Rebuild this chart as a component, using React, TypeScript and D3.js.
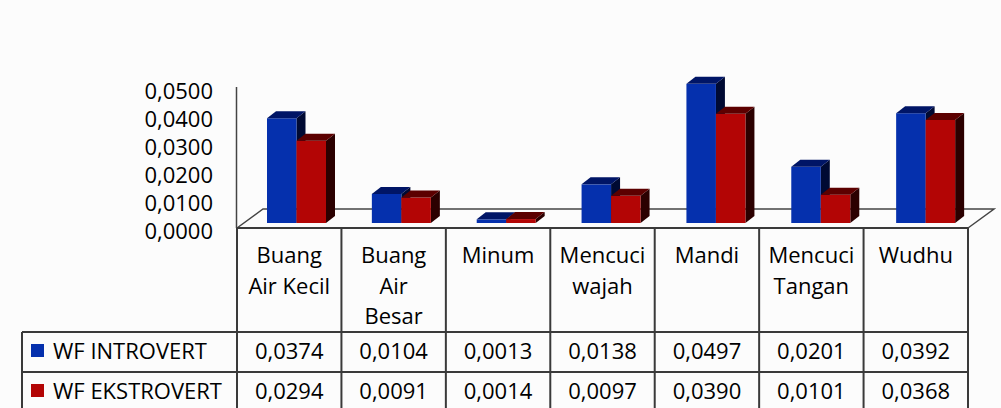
import React from "react";
import * as d3 from "d3";

const categories = ["Buang Air Kecil", "Buang Air Besar", "Minum", "Mencuci wajah", "Mandi", "Mencuci Tangan", "Wudhu"];
const categoryLines = [["Buang", "Air Kecil"], ["Buang", "Air", "Besar"], ["Minum"], ["Mencuci", "wajah"], ["Mandi"], ["Mencuci", "Tangan"], ["Wudhu"]];
const introvert = [0.0374, 0.0104, 0.0013, 0.0138, 0.0497, 0.0201, 0.0392];
const ekstrovert = [0.0294, 0.0091, 0.0014, 0.0097, 0.039, 0.0101, 0.0368];
const seriesNames = ["WF INTROVERT", "WF EKSTROVERT"];
const yTicks = [0, 0.01, 0.02, 0.03, 0.04, 0.05];

const W = 1001;
const H = 408;
const FONT = "'Open Sans', 'Noto Sans', sans-serif";

const fmt = (v: number) => v.toFixed(4).replace(".", ",");

const BLUE = { front: "#0530ad", top: "#001566", side: "#000a33" };
const RED = { front: "#b30505", top: "#5c0000", side: "#2b0000" };

export default function App() {
  // table columns
  const xTable = d3.scaleBand<string>().domain(categories).range([237, 968]);
  // bars sit mid-depth on the floor, slightly shifted right
  const xBars = d3.scaleBand<string>().domain(categories).range([245, 979]);
  const y = d3.scaleLinear().domain([0, 0.05]).range([228, 88]);
  const yBar = d3.scaleLinear().domain([0, 0.05]).range([223, 83]);

  const dx = 9;
  const dy = 7;
  const bw = 29.5;

  const floorFront = 228;
  const floorBack = 209;
  const floorDx = 26;

  const headerBottom = 332;
  const row1Bottom = 372;
  const tableLeft = 22;
  const tableRight = 968;
  const lineColor = "#3a3a3a";

  const bar = (x: number, v: number, c: typeof BLUE, key: string) => {
    const yt = yBar(v);
    const yb = yBar(0);
    const top = [[x, yt], [x + bw, yt], [x + bw + dx, yt - dy], [x + dx, yt - dy]];
    const side = [[x + bw, yt], [x + bw + dx, yt - dy], [x + bw + dx, yb - dy], [x + bw, yb]];
    const pts = (p: number[][]) => p.map((q) => q.join(",")).join(" ");
    return (
      <g key={key}>
        <polygon points={pts(side)} fill={c.side} />
        <rect x={x} y={yt} width={bw} height={yb - yt} fill={c.front} />
        <polygon points={pts(top)} fill={c.top} />
      </g>
    );
  };

  return (
    <svg width={W} height={H} style={{ position: "absolute", left: 0, top: 0, background: "#fcfcfc" }} fontFamily={FONT}>
      <rect width={W} height={H} fill="#fcfcfc" />

      {/* floor */}
      <polyline
        points={`${237},${floorFront} ${237 + floorDx},${floorBack} ${tableRight + floorDx},${floorBack} ${tableRight},${floorFront}`}
        fill="none"
        stroke="#444"
        strokeWidth={1.5}
      />
      {/* vertical axis */}
      <line x1={236.5} x2={236.5} y1={87} y2={floorFront} stroke="#444" strokeWidth={1.5} />

      {/* y tick labels */}
      {yTicks.map((t) => (
        <text key={t} x={213} y={y(t) + 1.5} textAnchor="end" dominantBaseline="central" fontSize={22} fill="#000">
          {fmt(t)}
        </text>
      ))}

      {/* bars */}
      {categories.map((c, i) => {
        const x0 = xBars(c)! + 22;
        return (
          <g key={c}>
            {bar(x0, introvert[i], BLUE, "b")}
            {bar(x0 + bw, ekstrovert[i], RED, "r")}
          </g>
        );
      })}

      {/* data table */}
      <g stroke={lineColor} strokeWidth={2}>
        <line x1={237} x2={tableRight} y1={floorFront} y2={floorFront} />
        <line x1={tableLeft} x2={tableRight} y1={headerBottom} y2={headerBottom} />
        <line x1={tableLeft} x2={tableRight} y1={row1Bottom} y2={row1Bottom} />
        <line x1={tableLeft} x2={tableLeft} y1={headerBottom} y2={H} />
        {categories.map((c) => (
          <line key={c} x1={xTable(c)!} x2={xTable(c)!} y1={floorFront} y2={H} />
        ))}
        <line x1={tableRight} x2={tableRight} y1={floorFront} y2={H} />
      </g>

      {categories.map((c, i) => {
        const cx = xTable(c)! + xTable.bandwidth() / 2;
        return (
          <g key={c}>
            {categoryLines[i].map((ln, j) => (
              <text key={j} x={cx} y={263 + j * 30.5} textAnchor="middle" fontSize={22} fill="#000">
                {ln}
              </text>
            ))}
            <text x={cx} y={359} textAnchor="middle" fontSize={22} fill="#000">
              {fmt(introvert[i])}
            </text>
            <text x={cx} y={399} textAnchor="middle" fontSize={22} fill="#000">
              {fmt(ekstrovert[i])}
            </text>
          </g>
        );
      })}

      {/* legend keys in the table */}
      {seriesNames.map((s, i) => {
        const yb = i === 0 ? 359 : 399;
        return (
          <g key={s}>
            <rect x={31} y={yb - 15} width={13} height={13} fill={i === 0 ? BLUE.front : RED.front} />
            <text x={53} y={yb} fontSize={22} fill="#000">
              {s}
            </text>
          </g>
        );
      })}
    </svg>
  );
}
